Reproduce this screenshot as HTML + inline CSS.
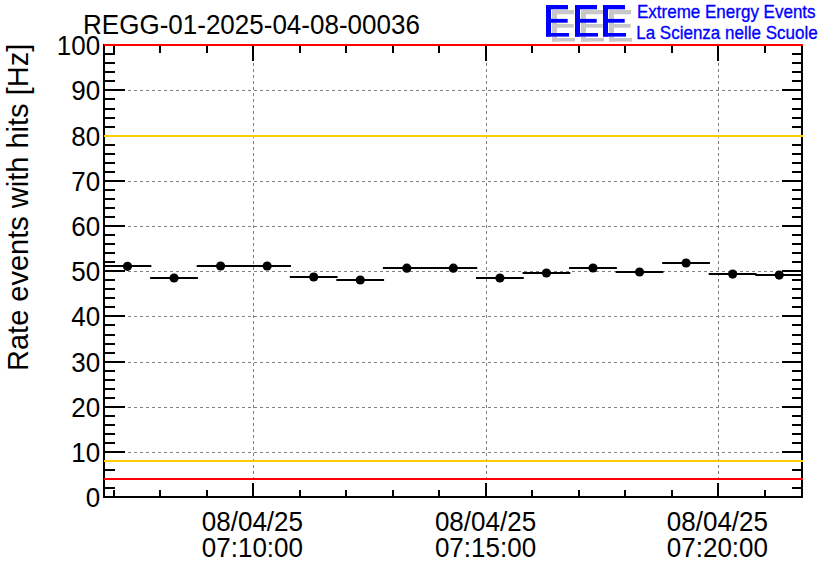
<!DOCTYPE html>
<html><head><meta charset="utf-8"><style>
html,body{margin:0;padding:0;background:#fff;width:836px;height:572px;overflow:hidden}
#c{position:relative;width:836px;height:572px;background:#fff}
#c span{position:absolute;-webkit-font-smoothing:antialiased;font-family:"Liberation Sans",sans-serif;line-height:1;white-space:pre;color:#000}
</style></head><body><div id="c">
<svg width="836" height="572" viewBox="0 0 836 572" style="position:absolute;left:0;top:0"><g stroke="#808080" stroke-width="1" stroke-dasharray="3 3" fill="none"><line x1="104" y1="452.5" x2="802" y2="452.5"/><line x1="104" y1="407.5" x2="802" y2="407.5"/><line x1="104" y1="362.5" x2="802" y2="362.5"/><line x1="104" y1="316.5" x2="802" y2="316.5"/><line x1="104" y1="271.5" x2="802" y2="271.5"/><line x1="104" y1="226.5" x2="802" y2="226.5"/><line x1="104" y1="181.5" x2="802" y2="181.5"/><line x1="104" y1="135.5" x2="802" y2="135.5"/><line x1="104" y1="90.5" x2="802" y2="90.5"/><line x1="253.5" y1="45" x2="253.5" y2="497"/><line x1="486.5" y1="45" x2="486.5" y2="497"/><line x1="718.5" y1="45" x2="718.5" y2="497"/></g>
<rect x="103.60" y="265.00" width="47.75" height="2.00" fill="#000"/>
<rect x="150.15" y="277.00" width="47.75" height="2.00" fill="#000"/>
<rect x="196.70" y="265.00" width="47.75" height="2.00" fill="#000"/>
<rect x="243.25" y="265.00" width="47.75" height="2.00" fill="#000"/>
<rect x="289.80" y="276.00" width="47.75" height="2.00" fill="#000"/>
<rect x="336.35" y="279.00" width="47.75" height="2.00" fill="#000"/>
<rect x="382.90" y="267.00" width="47.75" height="2.00" fill="#000"/>
<rect x="429.45" y="267.00" width="47.75" height="2.00" fill="#000"/>
<rect x="476.00" y="277.00" width="47.75" height="2.00" fill="#000"/>
<rect x="522.55" y="272.00" width="47.75" height="2.00" fill="#000"/>
<rect x="569.10" y="267.00" width="47.75" height="2.00" fill="#000"/>
<rect x="615.65" y="271.00" width="47.75" height="2.00" fill="#000"/>
<rect x="662.20" y="262.00" width="47.75" height="2.00" fill="#000"/>
<rect x="708.75" y="273.00" width="47.75" height="2.00" fill="#000"/>
<rect x="755.30" y="274.00" width="46.70" height="2.00" fill="#000"/>
<circle cx="127.50" cy="266.3" r="4.6" fill="#000"/>
<circle cx="174.05" cy="278" r="4.6" fill="#000"/>
<circle cx="220.60" cy="266" r="4.6" fill="#000"/>
<circle cx="267.15" cy="266" r="4.6" fill="#000"/>
<circle cx="313.70" cy="277" r="4.6" fill="#000"/>
<circle cx="360.25" cy="280" r="4.6" fill="#000"/>
<circle cx="406.80" cy="268.2" r="4.6" fill="#000"/>
<circle cx="453.35" cy="268.2" r="4.6" fill="#000"/>
<circle cx="499.90" cy="278" r="4.6" fill="#000"/>
<circle cx="546.45" cy="273" r="4.6" fill="#000"/>
<circle cx="593.00" cy="268" r="4.6" fill="#000"/>
<circle cx="639.55" cy="272" r="4.6" fill="#000"/>
<circle cx="686.10" cy="263" r="4.6" fill="#000"/>
<circle cx="732.65" cy="274.1" r="4.6" fill="#000"/>
<circle cx="779.20" cy="275.1" r="4.6" fill="#000"/>
<rect x="103.00" y="44.00" width="2.00" height="454.00" fill="#000"/>
<rect x="801.00" y="44.00" width="2.00" height="454.00" fill="#000"/>
<rect x="103.00" y="44.00" width="700.00" height="2.00" fill="#000"/>
<rect x="103.00" y="496.00" width="700.00" height="2.00" fill="#000"/>
<rect x="103.00" y="496.00" width="22.00" height="2.00" fill="#000"/>
<rect x="782.00" y="496.00" width="21.00" height="2.00" fill="#000"/>
<rect x="103.00" y="487.00" width="12.00" height="2.00" fill="#000"/>
<rect x="792.00" y="487.00" width="11.00" height="2.00" fill="#000"/>
<rect x="103.00" y="478.00" width="12.00" height="2.00" fill="#000"/>
<rect x="792.00" y="478.00" width="11.00" height="2.00" fill="#000"/>
<rect x="103.00" y="469.00" width="12.00" height="2.00" fill="#000"/>
<rect x="792.00" y="469.00" width="11.00" height="2.00" fill="#000"/>
<rect x="103.00" y="460.00" width="12.00" height="2.00" fill="#000"/>
<rect x="792.00" y="460.00" width="11.00" height="2.00" fill="#000"/>
<rect x="103.00" y="451.00" width="22.00" height="2.00" fill="#000"/>
<rect x="782.00" y="451.00" width="21.00" height="2.00" fill="#000"/>
<rect x="103.00" y="442.00" width="12.00" height="2.00" fill="#000"/>
<rect x="792.00" y="442.00" width="11.00" height="2.00" fill="#000"/>
<rect x="103.00" y="433.00" width="12.00" height="2.00" fill="#000"/>
<rect x="792.00" y="433.00" width="11.00" height="2.00" fill="#000"/>
<rect x="103.00" y="424.00" width="12.00" height="2.00" fill="#000"/>
<rect x="792.00" y="424.00" width="11.00" height="2.00" fill="#000"/>
<rect x="103.00" y="415.00" width="12.00" height="2.00" fill="#000"/>
<rect x="792.00" y="415.00" width="11.00" height="2.00" fill="#000"/>
<rect x="103.00" y="406.00" width="22.00" height="2.00" fill="#000"/>
<rect x="782.00" y="406.00" width="21.00" height="2.00" fill="#000"/>
<rect x="103.00" y="397.00" width="12.00" height="2.00" fill="#000"/>
<rect x="792.00" y="397.00" width="11.00" height="2.00" fill="#000"/>
<rect x="103.00" y="388.00" width="12.00" height="2.00" fill="#000"/>
<rect x="792.00" y="388.00" width="11.00" height="2.00" fill="#000"/>
<rect x="103.00" y="379.00" width="12.00" height="2.00" fill="#000"/>
<rect x="792.00" y="379.00" width="11.00" height="2.00" fill="#000"/>
<rect x="103.00" y="370.00" width="12.00" height="2.00" fill="#000"/>
<rect x="792.00" y="370.00" width="11.00" height="2.00" fill="#000"/>
<rect x="103.00" y="361.00" width="22.00" height="2.00" fill="#000"/>
<rect x="782.00" y="361.00" width="21.00" height="2.00" fill="#000"/>
<rect x="103.00" y="352.00" width="12.00" height="2.00" fill="#000"/>
<rect x="792.00" y="352.00" width="11.00" height="2.00" fill="#000"/>
<rect x="103.00" y="343.00" width="12.00" height="2.00" fill="#000"/>
<rect x="792.00" y="343.00" width="11.00" height="2.00" fill="#000"/>
<rect x="103.00" y="334.00" width="12.00" height="2.00" fill="#000"/>
<rect x="792.00" y="334.00" width="11.00" height="2.00" fill="#000"/>
<rect x="103.00" y="324.00" width="12.00" height="2.00" fill="#000"/>
<rect x="792.00" y="324.00" width="11.00" height="2.00" fill="#000"/>
<rect x="103.00" y="315.00" width="22.00" height="2.00" fill="#000"/>
<rect x="782.00" y="315.00" width="21.00" height="2.00" fill="#000"/>
<rect x="103.00" y="306.00" width="12.00" height="2.00" fill="#000"/>
<rect x="792.00" y="306.00" width="11.00" height="2.00" fill="#000"/>
<rect x="103.00" y="297.00" width="12.00" height="2.00" fill="#000"/>
<rect x="792.00" y="297.00" width="11.00" height="2.00" fill="#000"/>
<rect x="103.00" y="288.00" width="12.00" height="2.00" fill="#000"/>
<rect x="792.00" y="288.00" width="11.00" height="2.00" fill="#000"/>
<rect x="103.00" y="279.00" width="12.00" height="2.00" fill="#000"/>
<rect x="792.00" y="279.00" width="11.00" height="2.00" fill="#000"/>
<rect x="103.00" y="270.00" width="22.00" height="2.00" fill="#000"/>
<rect x="782.00" y="270.00" width="21.00" height="2.00" fill="#000"/>
<rect x="103.00" y="261.00" width="12.00" height="2.00" fill="#000"/>
<rect x="792.00" y="261.00" width="11.00" height="2.00" fill="#000"/>
<rect x="103.00" y="252.00" width="12.00" height="2.00" fill="#000"/>
<rect x="792.00" y="252.00" width="11.00" height="2.00" fill="#000"/>
<rect x="103.00" y="243.00" width="12.00" height="2.00" fill="#000"/>
<rect x="792.00" y="243.00" width="11.00" height="2.00" fill="#000"/>
<rect x="103.00" y="234.00" width="12.00" height="2.00" fill="#000"/>
<rect x="792.00" y="234.00" width="11.00" height="2.00" fill="#000"/>
<rect x="103.00" y="225.00" width="22.00" height="2.00" fill="#000"/>
<rect x="782.00" y="225.00" width="21.00" height="2.00" fill="#000"/>
<rect x="103.00" y="216.00" width="12.00" height="2.00" fill="#000"/>
<rect x="792.00" y="216.00" width="11.00" height="2.00" fill="#000"/>
<rect x="103.00" y="207.00" width="12.00" height="2.00" fill="#000"/>
<rect x="792.00" y="207.00" width="11.00" height="2.00" fill="#000"/>
<rect x="103.00" y="198.00" width="12.00" height="2.00" fill="#000"/>
<rect x="792.00" y="198.00" width="11.00" height="2.00" fill="#000"/>
<rect x="103.00" y="189.00" width="12.00" height="2.00" fill="#000"/>
<rect x="792.00" y="189.00" width="11.00" height="2.00" fill="#000"/>
<rect x="103.00" y="180.00" width="22.00" height="2.00" fill="#000"/>
<rect x="782.00" y="180.00" width="21.00" height="2.00" fill="#000"/>
<rect x="103.00" y="171.00" width="12.00" height="2.00" fill="#000"/>
<rect x="792.00" y="171.00" width="11.00" height="2.00" fill="#000"/>
<rect x="103.00" y="162.00" width="12.00" height="2.00" fill="#000"/>
<rect x="792.00" y="162.00" width="11.00" height="2.00" fill="#000"/>
<rect x="103.00" y="153.00" width="12.00" height="2.00" fill="#000"/>
<rect x="792.00" y="153.00" width="11.00" height="2.00" fill="#000"/>
<rect x="103.00" y="144.00" width="12.00" height="2.00" fill="#000"/>
<rect x="792.00" y="144.00" width="11.00" height="2.00" fill="#000"/>
<rect x="103.00" y="135.00" width="22.00" height="2.00" fill="#000"/>
<rect x="782.00" y="135.00" width="21.00" height="2.00" fill="#000"/>
<rect x="103.00" y="126.00" width="12.00" height="2.00" fill="#000"/>
<rect x="792.00" y="126.00" width="11.00" height="2.00" fill="#000"/>
<rect x="103.00" y="117.00" width="12.00" height="2.00" fill="#000"/>
<rect x="792.00" y="117.00" width="11.00" height="2.00" fill="#000"/>
<rect x="103.00" y="108.00" width="12.00" height="2.00" fill="#000"/>
<rect x="792.00" y="108.00" width="11.00" height="2.00" fill="#000"/>
<rect x="103.00" y="98.00" width="12.00" height="2.00" fill="#000"/>
<rect x="792.00" y="98.00" width="11.00" height="2.00" fill="#000"/>
<rect x="103.00" y="89.00" width="22.00" height="2.00" fill="#000"/>
<rect x="782.00" y="89.00" width="21.00" height="2.00" fill="#000"/>
<rect x="103.00" y="80.00" width="12.00" height="2.00" fill="#000"/>
<rect x="792.00" y="80.00" width="11.00" height="2.00" fill="#000"/>
<rect x="103.00" y="71.00" width="12.00" height="2.00" fill="#000"/>
<rect x="792.00" y="71.00" width="11.00" height="2.00" fill="#000"/>
<rect x="103.00" y="62.00" width="12.00" height="2.00" fill="#000"/>
<rect x="792.00" y="62.00" width="11.00" height="2.00" fill="#000"/>
<rect x="103.00" y="53.00" width="12.00" height="2.00" fill="#000"/>
<rect x="792.00" y="53.00" width="11.00" height="2.00" fill="#000"/>
<rect x="103.00" y="44.00" width="22.00" height="2.00" fill="#000"/>
<rect x="782.00" y="44.00" width="21.00" height="2.00" fill="#000"/>
<rect x="113.00" y="44.00" width="2.00" height="9.00" fill="#000"/>
<rect x="113.00" y="490.00" width="2.00" height="7.00" fill="#000"/>
<rect x="159.00" y="44.00" width="2.00" height="9.00" fill="#000"/>
<rect x="159.00" y="490.00" width="2.00" height="7.00" fill="#000"/>
<rect x="206.00" y="44.00" width="2.00" height="9.00" fill="#000"/>
<rect x="206.00" y="490.00" width="2.00" height="7.00" fill="#000"/>
<rect x="252.00" y="44.00" width="2.00" height="17.00" fill="#000"/>
<rect x="252.00" y="483.00" width="2.00" height="14.00" fill="#000"/>
<rect x="299.00" y="44.00" width="2.00" height="9.00" fill="#000"/>
<rect x="299.00" y="490.00" width="2.00" height="7.00" fill="#000"/>
<rect x="345.00" y="44.00" width="2.00" height="9.00" fill="#000"/>
<rect x="345.00" y="490.00" width="2.00" height="7.00" fill="#000"/>
<rect x="392.00" y="44.00" width="2.00" height="9.00" fill="#000"/>
<rect x="392.00" y="490.00" width="2.00" height="7.00" fill="#000"/>
<rect x="438.00" y="44.00" width="2.00" height="9.00" fill="#000"/>
<rect x="438.00" y="490.00" width="2.00" height="7.00" fill="#000"/>
<rect x="485.00" y="44.00" width="2.00" height="17.00" fill="#000"/>
<rect x="485.00" y="483.00" width="2.00" height="14.00" fill="#000"/>
<rect x="531.00" y="44.00" width="2.00" height="9.00" fill="#000"/>
<rect x="531.00" y="490.00" width="2.00" height="7.00" fill="#000"/>
<rect x="578.00" y="44.00" width="2.00" height="9.00" fill="#000"/>
<rect x="578.00" y="490.00" width="2.00" height="7.00" fill="#000"/>
<rect x="624.00" y="44.00" width="2.00" height="9.00" fill="#000"/>
<rect x="624.00" y="490.00" width="2.00" height="7.00" fill="#000"/>
<rect x="671.00" y="44.00" width="2.00" height="9.00" fill="#000"/>
<rect x="671.00" y="490.00" width="2.00" height="7.00" fill="#000"/>
<rect x="717.00" y="44.00" width="2.00" height="17.00" fill="#000"/>
<rect x="717.00" y="483.00" width="2.00" height="14.00" fill="#000"/>
<rect x="764.00" y="44.00" width="2.00" height="9.00" fill="#000"/>
<rect x="764.00" y="490.00" width="2.00" height="7.00" fill="#000"/>
<rect x="104.00" y="44.00" width="699.00" height="2.00" fill="#ff0000"/>
<rect x="104.00" y="478.00" width="699.00" height="2.00" fill="#ff0000"/>
<rect x="104.00" y="135.00" width="699.00" height="2.00" fill="#ffcc00"/>
<rect x="104.00" y="460.00" width="699.00" height="2.00" fill="#ffcc00"/>
<rect x="552" y="10" width="5" height="31.6" fill="#c8c8c8"/><rect x="552" y="10" width="22" height="4.3" fill="#c8c8c8"/><rect x="552" y="23.9" width="21.7" height="3.8" fill="#c8c8c8"/><rect x="552" y="38" width="23" height="3.6" fill="#c8c8c8"/><rect x="581" y="10" width="5" height="31.6" fill="#c8c8c8"/><rect x="581" y="10" width="22" height="4.3" fill="#c8c8c8"/><rect x="581" y="23.9" width="21.7" height="3.8" fill="#c8c8c8"/><rect x="581" y="38" width="23" height="3.6" fill="#c8c8c8"/><rect x="609" y="10" width="5" height="31.6" fill="#c8c8c8"/><rect x="609" y="10" width="22" height="4.3" fill="#c8c8c8"/><rect x="609" y="23.9" width="21.7" height="3.8" fill="#c8c8c8"/><rect x="609" y="38" width="23" height="3.6" fill="#c8c8c8"/><rect x="546" y="5" width="5" height="31.6" fill="#0000ff"/><rect x="546" y="5" width="22" height="4.3" fill="#0000ff"/><rect x="546" y="18.9" width="21.7" height="3.8" fill="#0000ff"/><rect x="546" y="33" width="23" height="3.6" fill="#0000ff"/><rect x="575" y="5" width="5" height="31.6" fill="#0000ff"/><rect x="575" y="5" width="22" height="4.3" fill="#0000ff"/><rect x="575" y="18.9" width="21.7" height="3.8" fill="#0000ff"/><rect x="575" y="33" width="23" height="3.6" fill="#0000ff"/><rect x="603" y="5" width="5" height="31.6" fill="#0000ff"/><rect x="603" y="5" width="22" height="4.3" fill="#0000ff"/><rect x="603" y="18.9" width="21.7" height="3.8" fill="#0000ff"/><rect x="603" y="33" width="23" height="3.6" fill="#0000ff"/></svg>
<span style="left:83.10px;top:12.40px;font-size:26px;transform-origin:0 22px;transform:scaleY(1.05)">REGG-01-2025-04-08-00036</span><span style="right:735.80px;top:485.10px;font-size:26px;text-align:right;transform-origin:0 13px;transform:scaleY(1.05)">0</span><span style="right:735.80px;top:440.10px;font-size:26px;text-align:right;transform-origin:0 13px;transform:scaleY(1.05)">10</span><span style="right:735.80px;top:395.10px;font-size:26px;text-align:right;transform-origin:0 13px;transform:scaleY(1.05)">20</span><span style="right:735.80px;top:350.10px;font-size:26px;text-align:right;transform-origin:0 13px;transform:scaleY(1.05)">30</span><span style="right:735.80px;top:304.10px;font-size:26px;text-align:right;transform-origin:0 13px;transform:scaleY(1.05)">40</span><span style="right:735.80px;top:259.10px;font-size:26px;text-align:right;transform-origin:0 13px;transform:scaleY(1.05)">50</span><span style="right:735.80px;top:214.10px;font-size:26px;text-align:right;transform-origin:0 13px;transform:scaleY(1.05)">60</span><span style="right:735.80px;top:169.10px;font-size:26px;text-align:right;transform-origin:0 13px;transform:scaleY(1.05)">70</span><span style="right:735.80px;top:124.10px;font-size:26px;text-align:right;transform-origin:0 13px;transform:scaleY(1.05)">80</span><span style="right:735.80px;top:78.10px;font-size:26px;text-align:right;transform-origin:0 13px;transform:scaleY(1.05)">90</span><span style="right:735.80px;top:33.10px;font-size:26px;text-align:right;transform-origin:0 13px;transform:scaleY(1.05)">100</span><span style="left:192.40px;width:120px;text-align:center;top:508.9px;font-size:26px;transform-origin:0 13px;transform:scaleY(1.05)">08/04/25</span><span style="left:192.40px;width:120px;text-align:center;top:535.1px;font-size:26px;transform-origin:0 13px;transform:scaleY(1.05)">07:10:00</span><span style="left:425.50px;width:120px;text-align:center;top:508.9px;font-size:26px;transform-origin:0 13px;transform:scaleY(1.05)">08/04/25</span><span style="left:425.50px;width:120px;text-align:center;top:535.1px;font-size:26px;transform-origin:0 13px;transform:scaleY(1.05)">07:15:00</span><span style="left:657.40px;width:120px;text-align:center;top:508.9px;font-size:26px;transform-origin:0 13px;transform:scaleY(1.05)">08/04/25</span><span style="left:657.40px;width:120px;text-align:center;top:535.1px;font-size:26px;transform-origin:0 13px;transform:scaleY(1.05)">07:20:00</span><span style="left:637.00px;top:3.60px;font-size:17px;color:#0000ff;-webkit-text-stroke:0.3px #0000ff;transform-origin:0 14px;transform:scaleY(1.08)">Extreme Energy Events</span><span style="left:636.20px;top:24.70px;font-size:17px;color:#0000ff;-webkit-text-stroke:0.3px #0000ff;transform-origin:0 14px;transform:scaleY(1.08)">La Scienza nelle Scuole</span><span style="left:27.80px;top:346.50px;font-size:29px;transform-origin:0 24px;transform:rotate(-90deg) scaleY(1.02)">Rate events with hits [Hz]</span>
</div></body></html>
